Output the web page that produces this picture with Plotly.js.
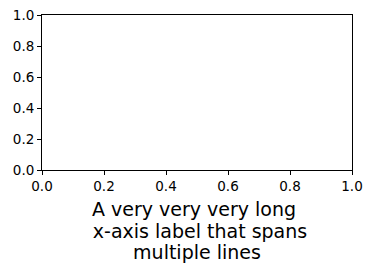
<!DOCTYPE html>
<html><head><meta charset="utf-8">
<script src="https://cdn.plot.ly/plotly-3.0.1.min.js"></script>
<style>html,body{margin:0;padding:0;background:#fff;}#c{width:372px;height:271px;}</style>
</head><body><div id="c"></div>
<script>
const xRange = [0, 1];
const yRange = [0, 1];
const tickVals = [0, 0.2, 0.4, 0.6, 0.8, 1.0];
const tickText = ["0.0", "0.2", "0.4", "0.6", "0.8", "1.0"];
const xLabelLines = ["A very very very long ", " x-axis label that spans", "multiple lines"];
const xLabel = xLabelLines.map(s => '<span style="font-size:19px">' + s + '</span>').join('<br>');

function axisBase() {
  return {
    showgrid: false, zeroline: false, showline: true, mirror: true,
    linecolor: '#000', linewidth: 1, ticks: 'outside', ticklen: 4, tickwidth: 1,
    tickcolor: '#000', tickmode: 'array', tickvals: tickVals, ticktext: tickText,
    tickfont: {family: 'DejaVu Sans', size: 13.5, color: '#000'}
  };
}
const layout = {
  width: 372, height: 271,
  font: {family: 'DejaVu Sans', size: 13.5, color: '#000'},
  margin: {l: 42, r: 20, t: 15, b: 101},
  paper_bgcolor: '#fff', plot_bgcolor: '#fff',
  showlegend: false,
  xaxis: Object.assign(axisBase(), {range: xRange, automargin: false,
    title: {text: xLabel, standoff: 11, font: {family: 'DejaVu Sans', size: 16.5, color: '#000'}}}),
  yaxis: Object.assign(axisBase(), {range: yRange, automargin: false})
};
Plotly.newPlot('c', [{x: [], y: [], type: 'scatter', mode: 'markers'}], layout, {displayModeBar: false, staticPlot: true});
</script></body></html>
